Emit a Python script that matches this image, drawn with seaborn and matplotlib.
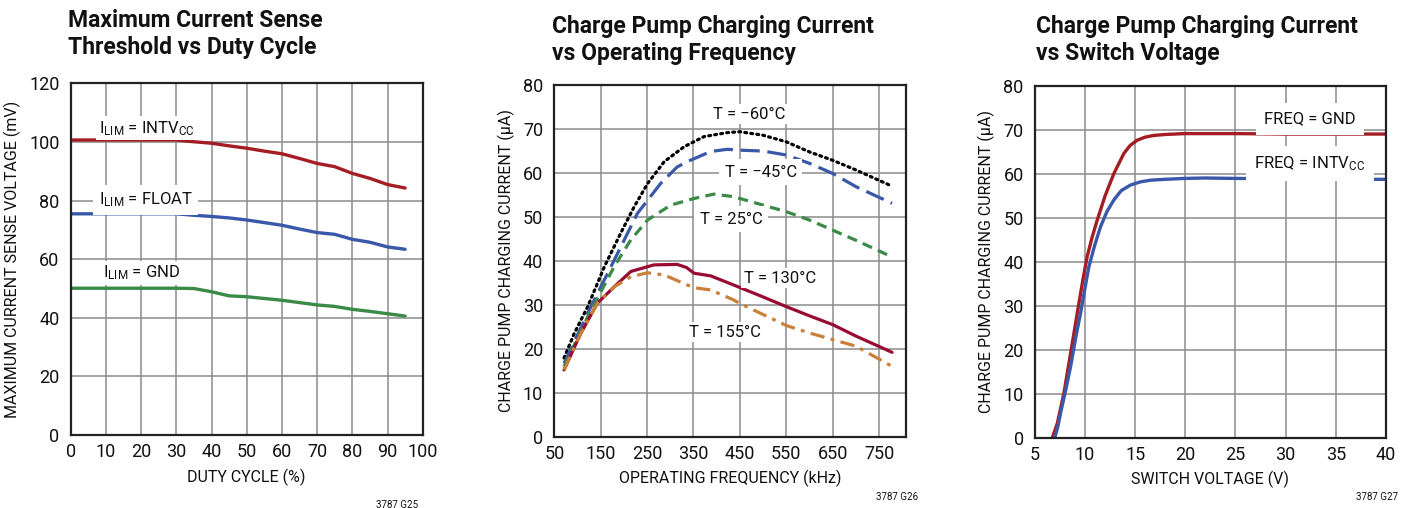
import matplotlib
matplotlib.use("Agg")
import matplotlib.pyplot as plt
import seaborn as sns

# ── Panel 1: max current sense threshold vs duty cycle ─────────────────────
duty = [0, 5, 10, 15, 20, 25, 30, 35, 40, 45, 50, 55, 60, 65, 70, 75, 80, 85, 90, 95]
ilim_intvcc = [100.7, 100.7, 100.7, 100.7, 100.7, 100.7, 100.7, 100.1, 99.6, 98.7,
               97.9, 96.9, 96.0, 94.4, 92.7, 91.6, 89.3, 87.6, 85.5, 84.3]
ilim_float = [75.5, 75.5, 75.5, 75.5, 75.5, 75.5, 75.5, 75.0, 74.6, 74.1,
              73.4, 72.5, 71.6, 70.3, 69.1, 68.5, 66.8, 65.8, 64.2, 63.4]
ilim_gnd = [50.1, 50.1, 50.1, 50.1, 50.1, 50.1, 50.1, 50.0, 48.9, 47.5,
            47.2, 46.6, 46.0, 45.2, 44.4, 43.9, 42.9, 42.2, 41.4, 40.6]

# ── Panel 2: charging current vs operating frequency ──────────────────────
f_m60 = [71, 93, 122, 158, 193, 222, 251, 287, 330, 373, 423, 450, 500, 550, 600, 650, 700, 778]
i_m60 = [17.9, 23.5, 29.6, 38.7, 46.3, 52.3, 57.6, 62.6, 66.0, 68.3, 69.2, 69.4, 68.6, 67.1,
         64.8, 62.9, 60.7, 57.0]
f_m45 = [71, 122, 176, 229, 279, 315, 337, 387, 423, 450, 500, 550, 600, 650, 700, 778]
i_m45 = [16.7, 28.1, 39.5, 50.8, 57.6, 61.4, 62.6, 64.9, 65.4, 65.2, 65.0, 64.1, 62.2, 59.9,
         56.9, 53.1]
f_25 = [71, 122, 179, 215, 251, 301, 351, 394, 437, 500, 550, 600, 650, 700, 778]
i_25 = [16.0, 27.3, 38.7, 44.8, 49.3, 52.7, 54.2, 55.2, 54.6, 52.7, 51.2, 49.3, 47.0, 44.7, 40.9]
f_130 = [71, 107, 143, 179, 215, 265, 315, 335, 351, 387, 437, 500, 550, 600, 650, 700, 778]
i_130 = [15.2, 23.5, 30.4, 34.1, 37.6, 39.1, 39.2, 38.5, 37.2, 36.6, 34.5, 31.8, 29.6, 27.5,
         25.5, 22.9, 19.2]
f_155 = [71, 107, 143, 179, 215, 251, 287, 337, 358, 387, 437, 450, 500, 550, 600, 650, 700, 778]
i_155 = [15.2, 23.5, 30.4, 34.1, 36.4, 37.3, 36.8, 34.5, 33.8, 33.4, 31.1, 30.3, 27.8, 25.3,
         23.6, 22.1, 20.6, 16.0]

# ── Panel 3: charging current vs switch voltage ───────────────────────────
v_gnd = [6.75, 7.25, 7.9, 8.57, 9.23, 9.8, 10.22, 10.7, 11.22, 12.0, 12.88, 13.88, 14.5,
         15.2, 16.0, 16.9, 18.0, 19.9, 25, 30, 35, 40]
i_gnd = [0, 3.3, 10.1, 19.2, 28.3, 36.0, 41.2, 45.5, 49.5, 55.0, 60.1, 64.7, 66.5,
         67.7, 68.4, 68.8, 69.0, 69.2, 69.2, 69.1, 69.1, 69.1]
v_intvcc = [6.99, 7.3, 7.58, 8.1, 8.57, 9.1, 9.56, 10.0, 10.39, 11.0, 11.55, 12.2, 12.88,
            13.6, 14.54, 15.5, 16.53, 18.0, 19.9, 22, 25, 30, 35, 40]
i_intvcc = [0, 2.5, 5.7, 11.0, 16.2, 23.0, 28.3, 34.0, 38.9, 44.0, 48.0, 51.5, 54.1,
            56.2, 57.5, 58.2, 58.6, 58.8, 59.0, 59.1, 59.0, 58.9, 58.8, 58.8]

RED = "#a51d24"
BLUE = "#3a58aa"
GREEN = "#3a8a48"
CRIMSON = "#980c33"
ORANGE = "#c98038"
INK = "#111111"

sns.set_theme(style="white")
FONT = ["Roboto", "DejaVu Sans"]
plt.rcParams["font.family"] = FONT
plt.rcParams["mathtext.fontset"] = "custom"
plt.rcParams["mathtext.rm"] = "Roboto"
plt.rcParams["mathtext.it"] = "Roboto"
plt.rcParams["text.color"] = INK
plt.rcParams["axes.labelcolor"] = INK

fig = plt.figure(figsize=(14.09, 5.08), dpi=100)
ax1 = fig.add_axes([0.0502, 0.1437, 0.2498, 0.692])
ax2 = fig.add_axes([0.3934, 0.1404, 0.2496, 0.692])
ax3 = fig.add_axes([0.7344, 0.1384, 0.2493, 0.692])

WHITE_BOX = dict(facecolor="white", edgecolor="none", pad=2)
LABEL_SIZE = 12


def style_axes(ax, xlim, ylim, xticks, yticks, xlabel, ylabel):
    ax.set_xlim(*xlim)
    ax.set_ylim(*ylim)
    ax.set_xticks(xticks)
    ax.set_yticks(yticks)
    ax.grid(True, color="#8c8c8c", linewidth=1.1)
    ax.set_axisbelow(True)
    for sp in ax.spines.values():
        sp.set_color("#222222")
        sp.set_linewidth(1.6)
        sp.set_visible(True)
    ax.tick_params(axis="x", labelsize=13, length=0, pad=6, colors=INK)
    ax.tick_params(axis="y", labelsize=13, length=0, pad=8, colors=INK)
    ax.set_xlabel(xlabel, fontsize=11.5, labelpad=5)
    ax.set_ylabel(ylabel, fontsize=11.5, labelpad=6)


# Panel 1
sns.lineplot(x=duty, y=ilim_intvcc, ax=ax1, color=RED, linewidth=2.4)
sns.lineplot(x=duty, y=ilim_float, ax=ax1, color=BLUE, linewidth=2.4)
sns.lineplot(x=duty, y=ilim_gnd, ax=ax1, color=GREEN, linewidth=2.4)
style_axes(ax1, (0, 100), (0, 120), range(0, 101, 10), range(0, 121, 20),
           "DUTY CYCLE (%)", "MAXIMUM CURRENT SENSE VOLTAGE (mV)")
ax1.text(21.5, 104.7, r"I$_{\rm LIM}$ = INTV$_{\rm CC}$", fontsize=LABEL_SIZE, ha="center",
         va="center", bbox=WHITE_BOX)
ax1.text(21.3, 80.2, r"I$_{\rm LIM}$ = FLOAT", fontsize=LABEL_SIZE, ha="center", va="center",
         bbox=dict(facecolor="white", edgecolor="none", pad=4))
ax1.text(20.0, 55.3, r"I$_{\rm LIM}$ = GND", fontsize=LABEL_SIZE, ha="center", va="center",
         bbox=WHITE_BOX)

# Panel 2
sns.lineplot(x=f_m60, y=i_m60, ax=ax2, color="black", linewidth=2.3, linestyle=(0, (0.6, 1.3)),
             dash_capstyle="round")
sns.lineplot(x=f_m45, y=i_m45, ax=ax2, color=BLUE, linewidth=2.3, linestyle=(0, (6, 2.4)))
sns.lineplot(x=f_25, y=i_25, ax=ax2, color=GREEN, linewidth=2.3, linestyle=(0, (3.2, 2.0)))
sns.lineplot(x=f_130, y=i_130, ax=ax2, color=CRIMSON, linewidth=2.3)
sns.lineplot(x=f_155, y=i_155, ax=ax2, color=ORANGE, linewidth=2.3,
             linestyle=(0, (4.5, 2.0, 1.2, 2.0)))
style_axes(ax2, (50, 808), (0, 80), range(50, 751, 100), range(0, 81, 10),
           "OPERATING FREQUENCY (kHz)", "CHARGE PUMP CHARGING CURRENT (µA)")
ax2.text(470, 73.4, "T = −60°C", fontsize=LABEL_SIZE, ha="center", va="center", bbox=WHITE_BOX)
ax2.text(495, 60.2, "T = −45°C", fontsize=LABEL_SIZE, ha="center", va="center",
         bbox=dict(facecolor="white", edgecolor="none", pad=4))
ax2.text(431, 49.5, "T = 25°C", fontsize=LABEL_SIZE, ha="center", va="center",
         bbox=dict(facecolor="white", edgecolor="none", pad=4))
ax2.text(537, 36.1, "T = 130°C", fontsize=LABEL_SIZE, ha="center", va="center", bbox=WHITE_BOX)
ax2.text(417, 23.8, "T = 155°C", fontsize=LABEL_SIZE, ha="center", va="center", bbox=WHITE_BOX)

# Panel 3
sns.lineplot(x=v_gnd, y=i_gnd, ax=ax3, color=RED, linewidth=2.4)
sns.lineplot(x=v_intvcc, y=i_intvcc, ax=ax3, color=BLUE, linewidth=2.4)
style_axes(ax3, (5, 40), (0, 80), range(5, 41, 5), range(0, 81, 10),
           "SWITCH VOLTAGE (V)", "CHARGE PUMP CHARGING CURRENT (µA)")
ax3.text(32.4, 72.6, "FREQ = GND", fontsize=LABEL_SIZE, ha="center", va="center",
         bbox=dict(facecolor="white", edgecolor="none", pad=6))
ax3.text(32.4, 62.4, r"FREQ = INTV$_{\rm CC}$", fontsize=LABEL_SIZE, ha="center", va="center",
         bbox=dict(facecolor="white", edgecolor="none", pad=6))

# Titles
title_kw = dict(fontsize=16.5, fontweight="bold", ha="left", va="top", family=FONT)
fig.text(68 / 1409, 1 - 9 / 508, "Maximum Current Sense\nThreshold vs Duty Cycle",
         linespacing=1.22, **title_kw)
fig.text(552 / 1409, 1 - 15 / 508, "Charge Pump Charging Current\nvs Operating Frequency",
         linespacing=1.22, **title_kw)
fig.text(1036 / 1409, 1 - 15 / 508, "Charge Pump Charging Current\nvs Switch Voltage",
         linespacing=1.22, **title_kw)

# Figure codes
fig.text(397 / 1409, 1 - 505 / 508, "3787 G25", fontsize=7, ha="center", va="center")
fig.text(897 / 1409, 1 - 497 / 508, "3787 G26", fontsize=7, ha="center", va="center")
fig.text(1377 / 1409, 1 - 497 / 508, "3787 G27", fontsize=7, ha="center", va="center")

fig.savefig("out.png", dpi=100)
plt.close(fig)
